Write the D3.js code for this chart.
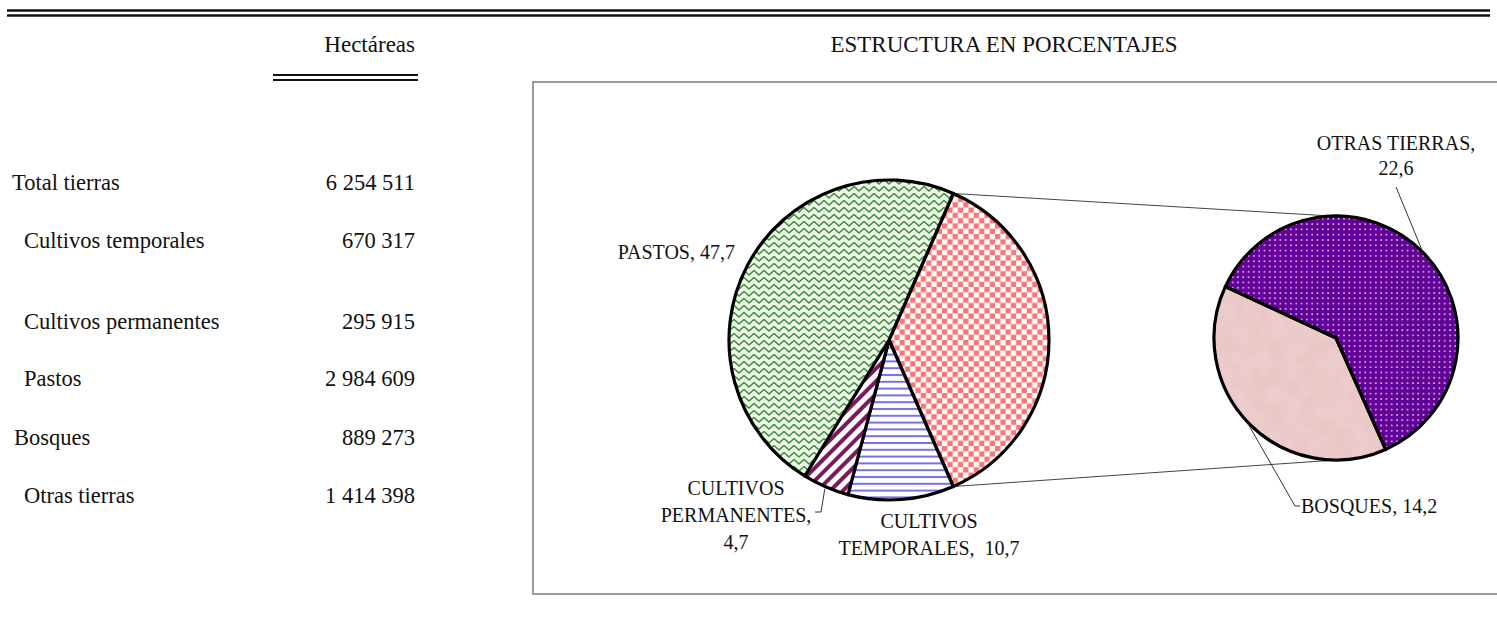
<!DOCTYPE html>
<html><head><meta charset="utf-8">
<script src="https://cdn.jsdelivr.net/npm/d3@7"></script>
<style>
body{margin:0;background:#fff}
svg{display:block}
</style>
</head><body>
<svg id="c" width="1497" height="626"></svg>
<script>
// ---------- DATA ----------
const rowLabels = ["Total tierras","Cultivos temporales","Cultivos permanentes","Pastos","Bosques","Otras tierras"];
const hectares = [6254511, 670317, 295915, 2984609, 889273, 1414398];
const rowIndent = [0, 1, 1, 1, 0, 1];
const columnHeader = "Hectáreas";
const chartTitle = "ESTRUCTURA EN PORCENTAJES";

const mainCategories = ["CULTIVOS TEMPORALES", "CULTIVOS PERMANENTES", "PASTOS"];
const mainPercent = [10.7, 4.7, 47.7];
const splitCategories = ["BOSQUES", "OTRAS TIERRAS"];
const splitPercent = [14.2, 22.6];

// ---------- LAYOUT ----------
const FONT = '"Liberation Serif", "Times New Roman", Tinos, Times';
const svg = d3.select("#c");
const fmtNum = v => d3.format(",")(v).replace(/,/g, " ");
const fmtPct = v => d3.format(".1f")(v).replace(".", ",");
function txt(sel){ return sel.style("font-family", FONT).attr("fill","#111"); }

// patterns
const defs = svg.append("defs");
// pastos: green zigzag
const pg = defs.append("pattern").attr("id","pPastos").attr("patternUnits","userSpaceOnUse")
  .attr("width",10).attr("height",7);
pg.append("rect").attr("width",10).attr("height",7).attr("fill","#eef6e8");
pg.append("path").attr("d","M-1,6 L5,0.5 L11,6").attr("fill","none").attr("stroke","#3b8e3b").attr("stroke-width",1.5);
// otro: red checker
const pr = defs.append("pattern").attr("id","pOtro").attr("patternUnits","userSpaceOnUse")
  .attr("width",10.6).attr("height",10.6);
pr.append("rect").attr("width",10.6).attr("height",10.6).attr("fill","#fff");
pr.append("rect").attr("width",5.3).attr("height",5.3).attr("fill","#fa7676");
pr.append("rect").attr("x",5.3).attr("y",5.3).attr("width",5.3).attr("height",5.3).attr("fill","#fa7676");
// temporales: blue horizontal lines
const pb = defs.append("pattern").attr("id","pTemp").attr("patternUnits","userSpaceOnUse")
  .attr("width",6).attr("height",6.8);
pb.append("rect").attr("width",6).attr("height",6.8).attr("fill","#fff");
pb.append("rect").attr("y",0).attr("width",6).attr("height",2).attr("fill","#7a70e6");
// permanentes: maroon diagonal stripes
const pm = defs.append("pattern").attr("id","pPerm").attr("patternUnits","userSpaceOnUse")
  .attr("width",9).attr("height",9).attr("patternTransform","rotate(45)");
pm.append("rect").attr("width",9).attr("height",9).attr("fill","#fff");
pm.append("rect").attr("width",4).attr("height",9).attr("fill","#7a1b5c");
// otras tierras: purple with white dots
const pd = defs.append("pattern").attr("id","pOtras").attr("patternUnits","userSpaceOnUse")
  .attr("width",5.3).attr("height",5.3);
pd.append("rect").attr("width",5.3).attr("height",5.3).attr("fill","#64009a");
pd.append("rect").attr("x",2).attr("y",2).attr("width",1.4).attr("height",1.4).attr("fill","#fff");
// bosques: pink texture (applied to an unstroked copy so outlines stay intact)
const flt = defs.append("filter").attr("id","tex").attr("x",-0.05).attr("y",-0.05).attr("width",1.1).attr("height",1.1);
flt.append("feTurbulence").attr("type","fractalNoise").attr("baseFrequency",0.06).attr("numOctaves",2).attr("seed",3).attr("result","n");
flt.append("feColorMatrix").attr("in","n").attr("type","matrix")
  .attr("values","0 0 0 0 0.90  0 0 0 0 0.76  0 0 0 0 0.76  0 0 0 0.35 0").attr("result","c");
flt.append("feComposite").attr("in","c").attr("in2","SourceGraphic").attr("operator","in").attr("result","t");
flt.append("feMerge").call(m=>{m.append("feMergeNode").attr("in","SourceGraphic");m.append("feMergeNode").attr("in","t");});

const fills = {"CULTIVOS TEMPORALES":"url(#pTemp)","CULTIVOS PERMANENTES":"url(#pPerm)","PASTOS":"url(#pPastos)",
  "OTRO":"url(#pOtro)","BOSQUES":"#e9c4c4","OTRAS TIERRAS":"url(#pOtras)"};

// top double rule
[10.5, 15.5].forEach(y => svg.append("line").attr("x1",7).attr("x2",1490).attr("y1",y).attr("y2",y)
  .attr("stroke","#111").attr("stroke-width",2.6));

// table
const xLabel = d3.scaleOrdinal().domain([0,1]).range([12,24]);
const valueRight = 415;
txt(svg.append("text")).attr("x",valueRight).attr("y",52).attr("text-anchor","end").attr("font-size",23).text(columnHeader);
[75, 80].forEach(y => svg.append("line").attr("x1",273).attr("x2",418).attr("y1",y).attr("y2",y)
  .attr("stroke","#111").attr("stroke-width",2.2));
const rowBaselines = [190, 248, 329, 386, 445, 503];
const rows = svg.append("g").selectAll("g").data(rowLabels).join("g");
txt(rows.append("text")).attr("x",(d,i)=>xLabel(rowIndent[i]) + (i===4?2:0)).attr("y",(d,i)=>rowBaselines[i])
  .attr("font-size",22.5).text(d=>d);
txt(rows.append("text")).attr("x",valueRight).attr("y",(d,i)=>rowBaselines[i]).attr("text-anchor","end")
  .attr("font-size",22.5).text((d,i)=>fmtNum(hectares[i]));

// title and box
txt(svg.append("text")).attr("x",1004).attr("y",52).attr("text-anchor","middle").attr("font-size",23).text(chartTitle);
svg.append("rect").attr("x",533).attr("y",82).attr("width",1000).attr("height",512)
  .attr("fill","none").attr("stroke","#7a7a7a").attr("stroke-width",1.5);

// main pie
const otherTotal = d3.sum(splitPercent);
const mainData = [{key:"OTRO", value: otherTotal}].concat(mainCategories.map((k,i)=>({key:k, value: mainPercent[i]})));
const totalMain = d3.sum(mainData, d=>d.value);
const c1 = {x:889, y:340}, r1 = 160;
const startMain = Math.PI/2 - Math.PI*otherTotal/totalMain;
const pieMain = d3.pie().sort(null).value(d=>d.value).startAngle(startMain).endAngle(startMain+2*Math.PI);
const arcsMain = pieMain(mainData);
const arc1 = d3.arc().innerRadius(0).outerRadius(r1);

// second pie
const c2 = {x:1336, y:338}, r2 = 122;
const splitData = splitCategories.map((k,i)=>({key:k, value: splitPercent[i]}));
const start2 = 156*Math.PI/180;
const pie2 = d3.pie().sort(null).value(d=>d.value).startAngle(start2).endAngle(start2+2*Math.PI);
const arcs2 = pie2(splitData);
const arc2 = d3.arc().innerRadius(0).outerRadius(r2);

const pt = (c, r, a) => [c.x + r*Math.sin(a), c.y - r*Math.cos(a)];

// connector lines
const oth = arcsMain[0];
const conn = svg.append("g").attr("stroke","#444").attr("stroke-width",1).attr("fill","none");
const pA = pt(c1, r1, oth.startAngle), pB = pt(c1, r1, oth.endAngle);
conn.append("line").attr("x1",pA[0]).attr("y1",pA[1]).attr("x2",c2.x-5).attr("y2",c2.y-r2);
conn.append("line").attr("x1",pB[0]).attr("y1",pB[1]).attr("x2",c2.x).attr("y2",c2.y+r2);

// draw pies
svg.append("g").attr("transform",`translate(${c1.x},${c1.y})`).selectAll("path").data(arcsMain).join("path")
  .attr("d",arc1).attr("fill",d=>fills[d.data.key]).attr("stroke","#000").attr("stroke-width",3.2).attr("stroke-linejoin","round");
const g2 = svg.append("g").attr("transform",`translate(${c2.x},${c2.y})`);
g2.selectAll("path.fill").data(arcs2).join("path").attr("class","fill")
  .attr("d",arc2).attr("fill",d=>fills[d.data.key]).attr("filter",d=>d.data.key==="BOSQUES"?"url(#tex)":null);
g2.selectAll("path.edge").data(arcs2).join("path").attr("class","edge")
  .attr("d",arc2).attr("fill","none").attr("stroke","#000").attr("stroke-width",3.2).attr("stroke-linejoin","round");

// labels
const mid = d => (d.startAngle + d.endAngle)/2;
const lab = svg.append("g");
function multi(x, y, lines, anchor, lh){
  const t = txt(lab.append("text")).attr("x",x).attr("y",y).attr("font-size",20).attr("text-anchor",anchor)
    .attr("xml:space","preserve").style("white-space","pre");
  lines.forEach((s,i)=>t.append("tspan").attr("x",x).attr("y",y+i*lh).text(s));
}
const aTemp = arcsMain[1], aPerm = arcsMain[2], aPast = arcsMain[3];
multi(735, 259, [`${aPast.data.key}, ${fmtPct(aPast.data.value)}`], "end", 0);
multi(736, 495, ["CULTIVOS", "PERMANENTES,", fmtPct(aPerm.data.value)], "middle", 27);
multi(929, 528, ["CULTIVOS", `TEMPORALES,  ${fmtPct(aTemp.data.value)}`], "middle", 27);
const aOtras = arcs2[1], aBosq = arcs2[0];
multi(1396, 150, [`${aOtras.data.key},`, fmtPct(aOtras.data.value)], "middle", 25);
multi(1301, 513, [`${aBosq.data.key}, ${fmtPct(aBosq.data.value)}`], "start", 0);

// leader lines
const lead = svg.append("g").attr("stroke","#333").attr("stroke-width",1).attr("fill","none");
const ePerm = pt(c1, r1+2, mid(aPerm));
lead.append("path").attr("d",`M${ePerm[0]},${ePerm[1]} L821,512 L815,512`);
const eOtras = pt(c2, r2, mid(aOtras));
lead.append("path").attr("d",`M1396,187 L${eOtras[0]},${eOtras[1]}`);
const eBosq = pt(c2, r2+1, mid(aBosq));
lead.append("path").attr("d",`M${eBosq[0]},${eBosq[1]} L1295,506 L1300,506`);
</script>
</body></html>
